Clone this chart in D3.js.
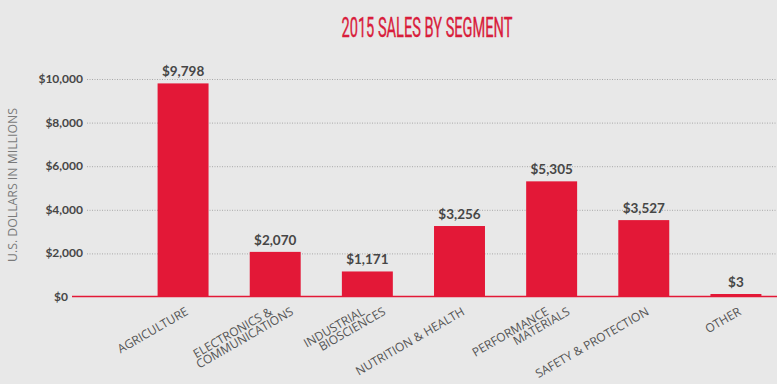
<!DOCTYPE html>
<html>
<head>
<meta charset="utf-8">
<script src="https://cdn.jsdelivr.net/npm/d3@7"></script>
<style>
  html, body { margin: 0; padding: 0; background: #e8e8e8; }
  svg { display: block; }
</style>
</head>
<body>
<div id="container"></div>
<script>
var svgWidth = 777;
var svgHeight = 384;

// data
var segments = [
  ['AGRICULTURE'],
  ['ELECTRONICS &', 'COMMUNICATIONS'],
  ['INDUSTRIAL', 'BIOSCIENCES'],
  ['NUTRITION & HEALTH'],
  ['PERFORMANCE', 'MATERIALS'],
  ['SAFETY & PROTECTION'],
  ['OTHER']
];
var sales = [9798, 2070, 1171, 3256, 5305, 3527, 3];
var yTicks = [0, 2000, 4000, 6000, 8000, 10000];

var RED = '#e31837';
var TEXT = '#464646';

var svg = d3.select('#container').append('svg')
    .attr('width', svgWidth)
    .attr('height', svgHeight);

svg.append('rect')
    .attr('width', svgWidth)
    .attr('height', svgHeight)
    .style('fill', '#e8e8e8');

var x = d3.scaleBand()
    .domain(d3.range(segments.length))
    .range([137, 782])
    .paddingInner(0.447)
    .paddingOuter(0.2235);

var y = d3.scaleLinear()
    .domain([0, 10000])
    .range([297, 79]);

var money = function (v) { return '$' + d3.format(',')(v); };

// title
svg.append('text')
    .attr('x', 427)
    .attr('y', 37)
    .attr('text-anchor', 'middle')
    .attr('textLength', 171)
    .attr('lengthAdjust', 'spacingAndGlyphs')
    .style('font-family', '"Liberation Sans Narrow", "Roboto", sans-serif')
    .style('font-size', '27px')
    .style('stroke', '#d91c3b')
    .style('stroke-width', 0.4)
    .style('fill', '#d91c3b')
    .text('2015 SALES BY SEGMENT');

// y axis title
svg.append('text')
    .attr('transform', 'translate(17,185) rotate(-90)')
    .attr('text-anchor', 'middle')
    .attr('textLength', 154)
    .attr('lengthAdjust', 'spacingAndGlyphs')
    .style('font-family', '"Open Sans", sans-serif')
    .style('font-size', '12.5px')
    .style('fill', '#7a7a7a')
    .text('U.S. DOLLARS IN MILLIONS');

// gridlines
svg.append('g').selectAll('line')
    .data(yTicks.filter(function (t) { return t > 0; }))
    .enter().append('line')
    .attr('x1', 87)
    .attr('x2', svgWidth)
    .attr('y1', function (d) { return y(d) + 0.5; })
    .attr('y2', function (d) { return y(d) + 0.5; })
    .style('stroke', '#a8a8a8')
    .style('stroke-width', 1)
    .style('stroke-dasharray', '1,1.5');

// y tick labels
svg.append('g').selectAll('text')
    .data(yTicks)
    .enter().append('text')
    .attr('x', function (d) { return d === 0 ? 68 : 83; })
    .attr('y', function (d) { return y(d) + 4; })
    .attr('text-anchor', 'end')
    .style('font-family', 'Lato, "Open Sans", sans-serif')
    .style('font-weight', 'bold')
    .style('font-size', '12px')
    .style('fill', TEXT)
    .text(money);

// bars
svg.append('g').selectAll('rect')
    .data(sales)
    .enter().append('rect')
    .attr('x', function (d, i) { return x(i); })
    .attr('width', x.bandwidth())
    .attr('y', function (d) { return Math.min(y(d), y(0) - 3); })
    .attr('height', function (d) { return Math.max(y(0) - y(d), 3); })
    .style('fill', RED);

// baseline
svg.append('line')
    .attr('x1', 72)
    .attr('x2', svgWidth)
    .attr('y1', y(0) - 0.5)
    .attr('y2', y(0) - 0.5)
    .style('stroke', RED)
    .style('stroke-width', 1.5);

// value labels
svg.append('g').selectAll('text')
    .data(sales)
    .enter().append('text')
    .attr('x', function (d, i) { return x(i) + x.bandwidth() / 2; })
    .attr('y', function (d) { return Math.min(y(d), y(0) - 3) - 7; })
    .attr('text-anchor', 'middle')
    .style('font-family', 'Lato, "Open Sans", sans-serif')
    .style('font-weight', 'bold')
    .style('font-size', '13.5px')
    .style('fill', TEXT)
    .text(money);

// category labels, one rotated text per line
segments.forEach(function (lines, i) {
    var cx = x(i) + x.bandwidth() / 2;
    lines.forEach(function (line, j) {
        var off = lines.length === 1 ? 6 : -2 + 21 * j;
        svg.append('text')
            .attr('transform', 'translate(' + (cx + off) + ',314) rotate(-30)')
            .attr('text-anchor', 'end')
            .style('font-family', '"Open Sans", sans-serif')
            .style('font-size', '12px')
            .style('fill', '#555')
            .text(line);
    });
});
</script>
</body>
</html>
